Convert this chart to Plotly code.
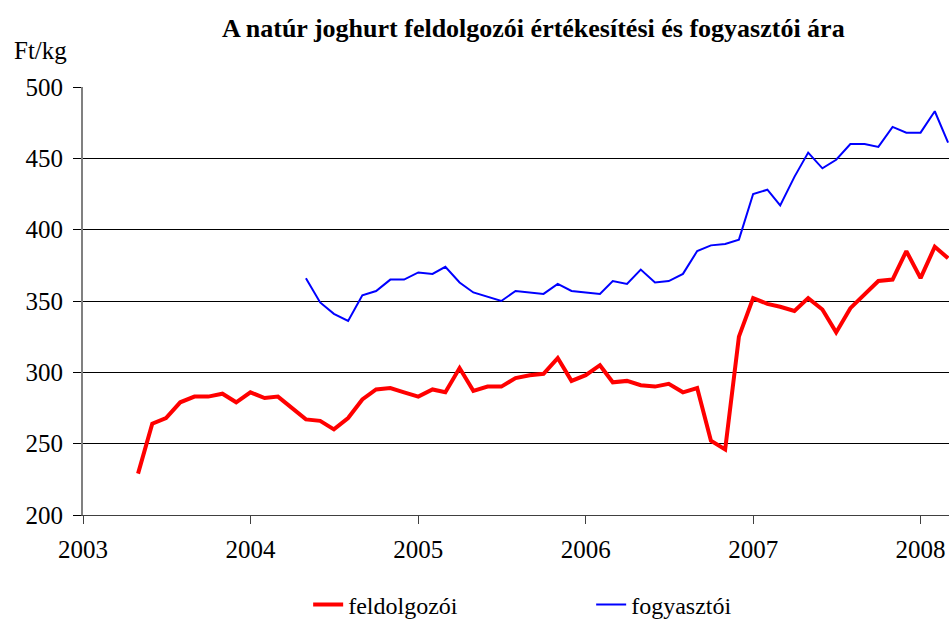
import pandas as pd
import plotly.graph_objects as go

# feldolgozói (processor) price, Ft/kg, monthly May 2003 - Mar 2008
feldolgozoi_start = "2003-05-01"
feldolgozoi = [
    229, 264, 268, 279, 283, 283, 285, 279,
    286, 282, 283, 275, 267, 266, 260, 268, 281, 288, 289, 286,
    283, 288, 286, 303, 287, 290, 290, 296, 298, 299, 310, 294,
    298, 305, 293, 294, 291, 290, 292, 286, 289, 252, 246, 325,
    352, 348, 346, 343, 352, 344, 328, 345, 355, 364, 365, 385,
    366, 388, 380,
]

# fogyasztói (consumer) price, Ft/kg, monthly May 2004 - Mar 2008
fogyasztoi_start = "2004-05-01"
fogyasztoi = [
    366, 349, 341, 336, 354, 357, 365, 365,
    370, 369, 374, 363, 356, 353, 350, 357, 356, 355, 362, 357,
    356, 355, 364, 362, 372, 363, 364, 369, 385, 389, 390, 393,
    425, 428, 417, 437, 454, 443, 449, 460, 460, 458, 472, 468,
    468, 483, 461,
]

year_ticks = ["2003-01-01", "2004-01-01", "2005-01-01", "2006-01-01", "2007-01-01", "2008-01-01"]
year_labels = ["2003", "2004", "2005", "2006", "2007", "2008"]
y_ticks = [200, 250, 300, 350, 400, 450, 500]

x_red = pd.date_range(feldolgozoi_start, periods=len(feldolgozoi), freq="MS")
x_blue = pd.date_range(fogyasztoi_start, periods=len(fogyasztoi), freq="MS")

FONT = "Liberation Serif, Times New Roman, Times, serif"
W, H = 949, 623

fig = go.Figure()
fig.add_trace(go.Scatter(x=x_red, y=feldolgozoi, mode="lines", name="feldolgozói",
                         line=dict(color="#FF0000", width=4)))
fig.add_trace(go.Scatter(x=x_blue, y=fogyasztoi, mode="lines", name="fogyasztói",
                         line=dict(color="#0000FF", width=2)))

fig.update_layout(
    width=W, height=H,
    margin=dict(l=83, r=0, t=87, b=108, autoexpand=False),
    paper_bgcolor="white", plot_bgcolor="white",
    font=dict(family=FONT, size=25, color="black"),
    title=dict(text="<b>A natúr joghurt feldolgozói értékesítési és fogyasztói ára</b>",
               x=0.52, xref="paper", xanchor="center",
               y=1 - 28 / H, yref="container", yanchor="middle",
               font=dict(family=FONT, size=26, color="black")),
    xaxis=dict(
        type="date",
        range=["2003-01-01", "2008-03-03"],
        tickvals=year_ticks, ticktext=year_labels,
        ticks="outside", ticklen=8, tickcolor="#404040", tickwidth=1,
        showline=True, linecolor="#404040", linewidth=1,
        showgrid=False, zeroline=False,
        tickfont=dict(family=FONT, size=25),
        ticklabelstandoff=4,
    ),
    yaxis=dict(
        range=[200, 500],
        tickvals=y_ticks,
        ticks="outside", ticklen=8, tickcolor="black", tickwidth=1,
        showline=True, linecolor="#808080", linewidth=2,
        showgrid=True, gridcolor="black", gridwidth=1,
        zeroline=False,
        tickfont=dict(family=FONT, size=25),
        ticklabelstandoff=5,
    ),
    legend=dict(
        orientation="h",
        x=0.26, xanchor="left",
        y=-0.21, yanchor="middle",
        font=dict(family=FONT, size=24),
        entrywidth=238,
        bgcolor="rgba(0,0,0,0)",
    ),
    showlegend=True,
)

fig.add_annotation(text="Ft/kg", xref="paper", yref="paper",
                   x=-0.082, y=1.086, xanchor="left", yanchor="middle",
                   showarrow=False, font=dict(family=FONT, size=25))

fig.write_html("out.html",
               config={"displayModeBar": False},
               post_script="document.body.style.margin='0';document.body.style.overflow='hidden';")
